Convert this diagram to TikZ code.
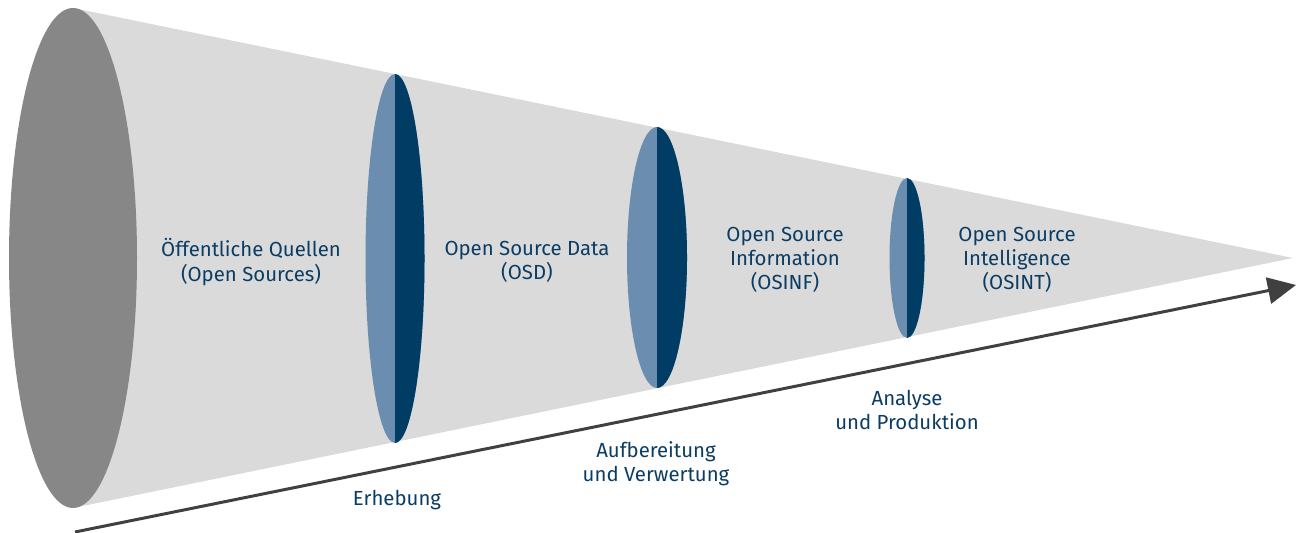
\documentclass[tikz,border=0pt]{standalone}
\usepackage{fontspec}
\setmainfont{Fira Sans}
\usetikzlibrary{arrows.meta}
\definecolor{conegray}{HTML}{DADADA}
\definecolor{basegray}{HTML}{878787}
\definecolor{lenslight}{HTML}{6B8EB0}
\definecolor{lensdark}{HTML}{003C64}
\definecolor{txtblue}{HTML}{0B3D64}
\definecolor{arrowgray}{HTML}{404040}
\tikzset{
  lbl/.style={text=txtblue, align=center, font=\fontsize{11.6}{13.8}\selectfont, inner sep=0pt},
  flow/.style={draw=arrowgray, line width=1.7pt, -{Triangle[length=16pt,width=15pt]}},
}
\begin{document}
\begin{tikzpicture}[x=0.02cm,y=0.02cm]
\useasboundingbox (0,0) rectangle (1300,533);
% cone
\fill[conegray] (73,525) -- (1293,275) -- (73,25) -- cycle;
\fill[basegray] (73,275) ellipse [x radius=64, y radius=250];
% lenses
\fill[lenslight] (395,274.5) ellipse [x radius=29.5, y radius=184.5];
\fill[lensdark] (395,459) arc [start angle=90, end angle=-90, x radius=29.5, y radius=184.5] -- cycle;
\fill[lenslight] (657,275.5) ellipse [x radius=30, y radius=130.5];
\fill[lensdark] (657,406) arc [start angle=90, end angle=-90, x radius=30, y radius=130.5] -- cycle;
\fill[lenslight] (907,275) ellipse [x radius=17.5, y radius=80];
\fill[lensdark] (907,355) arc [start angle=90, end angle=-90, x radius=17.5, y radius=80] -- cycle;
% arrow
\coordinate (as) at (75,1);
\coordinate (ae) at (1296,248);
\draw[flow] (as) -- (ae);
% labels
\node[lbl] (src) at (251,271) {Öffentliche Quellen\\(Open Sources)};
\node[lbl] (osd) at (527,271) {Open Source Data\\(OSD)};
\node[lbl] (osinf) at (785,273) {Open Source\\Information\\(OSINF)};
\node[lbl] (osint) at (1017,273) {Open Source\\Intelligence\\(OSINT)};
\node[lbl] (erh) at (397,33) {Erhebung};
\node[lbl] (aufb) at (656,69) {Aufbereitung\\und Verwertung};
\node[lbl] (anal) at (907,123) {Analyse\\und Produktion};
\end{tikzpicture}
\end{document}
